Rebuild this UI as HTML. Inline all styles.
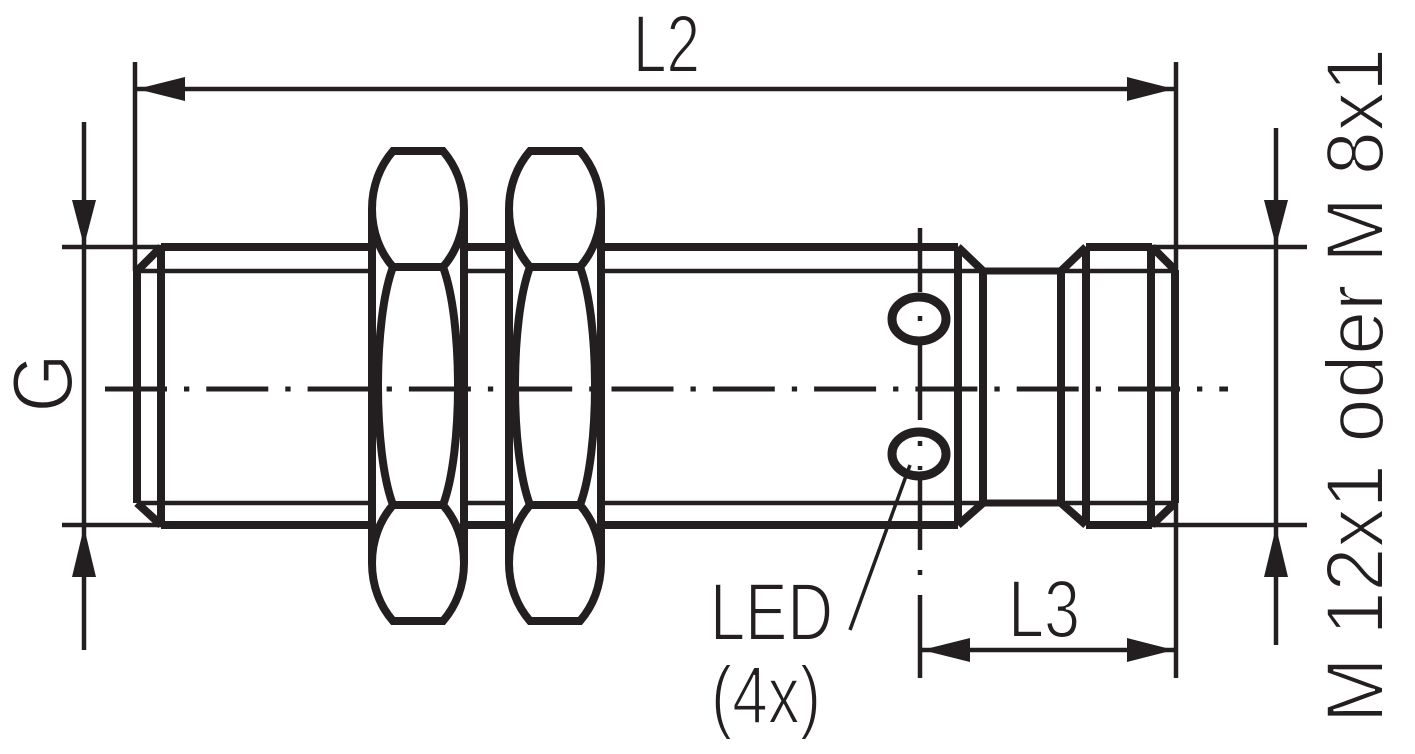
<!DOCTYPE html>
<html>
<head>
<meta charset="utf-8">
<style>
html,body{margin:0;padding:0;background:#fff;}
svg{display:block;}
text{font-family:"Liberation Sans",sans-serif;fill:#231f20;stroke:#fff;stroke-width:2;}
</style>
</head>
<body>
<svg width="1415" height="754" viewBox="0 0 1415 754" xmlns="http://www.w3.org/2000/svg">
<rect width="1415" height="754" fill="#fff"/>
<g stroke="#231f20" fill="none" stroke-linecap="butt">

<!-- centerline -->
<line x1="105" y1="389" x2="1228" y2="389" stroke-width="5" stroke-dasharray="62 17 5.3 17"/>

<!-- thin lines: dimension & extension -->
<g stroke-width="4.5">
  <!-- L2 -->
  <line x1="137" y1="89" x2="1174" y2="89"/>
  <line x1="135" y1="62" x2="135" y2="271"/>
  <line x1="1176" y1="62" x2="1176" y2="678"/>
  <!-- G -->
  <line x1="84" y1="122" x2="84" y2="650"/>
  <line x1="62" y1="247" x2="161" y2="247"/>
  <line x1="62" y1="525" x2="161" y2="525"/>
  <!-- right dim -->
  <line x1="1276" y1="128" x2="1276" y2="645"/>
  <line x1="1150" y1="247" x2="1307" y2="247"/>
  <line x1="1150" y1="525" x2="1307" y2="525"/>
  <!-- L3 -->
  <line x1="922" y1="650" x2="1174" y2="650"/>
  <!-- LED centre line -->
  <line x1="920" y1="228" x2="920" y2="292"/>
  <line x1="920" y1="316" x2="920" y2="321"/>
  <line x1="920" y1="345" x2="920" y2="420"/>
  <line x1="920" y1="441" x2="920" y2="446"/>
  <line x1="920" y1="466" x2="920" y2="470"/>
  <line x1="920" y1="480" x2="920" y2="550"/>
  <line x1="920" y1="570" x2="920" y2="575"/>
  <line x1="920" y1="595" x2="920" y2="678"/>
  <!-- leader -->
  <line x1="910" y1="465" x2="850" y2="630" stroke-width="3.5"/>
  <!-- inner body lines -->
  <line x1="137" y1="271" x2="372" y2="271"/>
  <line x1="137" y1="503" x2="372" y2="503"/>
  <line x1="464" y1="271" x2="509" y2="271"/>
  <line x1="464" y1="503" x2="509" y2="503"/>
  <line x1="601" y1="271" x2="983" y2="271"/>
  <line x1="601" y1="503" x2="983" y2="503"/>
  <line x1="1060" y1="271" x2="1176" y2="271"/>
  <line x1="1060" y1="503" x2="1176" y2="503"/>
</g>

<!-- thick body outline -->
<g stroke-width="8" stroke-linejoin="miter">
  <line x1="137" y1="271" x2="137" y2="503"/>
  <line x1="161" y1="247" x2="161" y2="525"/>
  <line x1="137" y1="271" x2="161" y2="247"/>
  <line x1="137" y1="503" x2="161" y2="525"/>
  <line x1="161" y1="247" x2="372" y2="247"/>
  <line x1="161" y1="525" x2="372" y2="525"/>
  <line x1="464" y1="247" x2="509" y2="247"/>
  <line x1="464" y1="525" x2="509" y2="525"/>
  <line x1="601" y1="247" x2="958" y2="247"/>
  <line x1="601" y1="525" x2="958" y2="525"/>
  <line x1="958" y1="247" x2="958" y2="525"/>
  <line x1="983" y1="271" x2="983" y2="503"/>
  <line x1="958" y1="247" x2="983" y2="271"/>
  <line x1="958" y1="525" x2="983" y2="503"/>
  <line x1="983" y1="271" x2="1060" y2="271" stroke-width="7"/>
  <line x1="983" y1="503" x2="1060" y2="503" stroke-width="7"/>
  <line x1="1061" y1="271" x2="1061" y2="503"/>
  <line x1="1061" y1="271" x2="1086" y2="247"/>
  <line x1="1061" y1="503" x2="1086" y2="525"/>
  <line x1="1086" y1="247" x2="1086" y2="525"/>
  <line x1="1086" y1="247" x2="1152" y2="247"/>
  <line x1="1086" y1="525" x2="1152" y2="525"/>
  <line x1="1151" y1="247" x2="1151" y2="525"/>
  <line x1="1152" y1="247" x2="1175" y2="270"/>
  <line x1="1152" y1="525" x2="1175" y2="503"/>
  <line x1="1175" y1="270" x2="1175" y2="503"/>
</g>

<!-- nut 1 -->
<g stroke-width="8">
  <path d="M393,151 L443,151 C456,166 464,186 464,209 C464,232 456,252 443,267 L393,267 C380,252 372,232 372,209 C372,186 380,166 393,151 Z"/>
  <g transform="translate(0,772) scale(1,-1)">
    <path d="M393,151 L443,151 C456,166 464,186 464,209 C464,232 456,252 443,267 L393,267 C380,252 372,232 372,209 C372,186 380,166 393,151 Z"/>
  </g>
  <line x1="372" y1="209" x2="372" y2="563"/>
  <line x1="464" y1="209" x2="464" y2="563"/>
  <path d="M393,267 C373,320 373,452 393,505"/>
  <path d="M443,267 C463,320 463,452 443,505"/>
</g>
<!-- nut 2 -->
<g stroke-width="8" transform="translate(137,0)">
  <path d="M393,151 L443,151 C456,166 464,186 464,209 C464,232 456,252 443,267 L393,267 C380,252 372,232 372,209 C372,186 380,166 393,151 Z"/>
  <g transform="translate(0,772) scale(1,-1)">
    <path d="M393,151 L443,151 C456,166 464,186 464,209 C464,232 456,252 443,267 L393,267 C380,252 372,232 372,209 C372,186 380,166 393,151 Z"/>
  </g>
  <line x1="372" y1="209" x2="372" y2="563"/>
  <line x1="464" y1="209" x2="464" y2="563"/>
  <path d="M393,267 C373,320 373,452 393,505"/>
  <path d="M443,267 C463,320 463,452 443,505"/>
</g>

<!-- LED ellipses -->
<ellipse cx="919" cy="319" rx="27" ry="22" stroke-width="9"/>
<ellipse cx="919" cy="454" rx="27" ry="22" stroke-width="9"/>
</g>

<!-- arrowheads -->
<g fill="#231f20" stroke="none">
  <polygon points="137,89 185,77 185,101"/>
  <polygon points="1174,89 1127,77 1127,101"/>
  <polygon points="84,246 72,200 96,200"/>
  <polygon points="84,527 72,577 96,577"/>
  <polygon points="1276,246 1264,200 1288,200"/>
  <polygon points="1276,527 1264,577 1288,577"/>
  <polygon points="922,650 970,638 970,662"/>
  <polygon points="1174,650 1127,638 1127,662"/>
</g>

<!-- labels -->
<text x="633" y="72" font-size="82" textLength="67" lengthAdjust="spacingAndGlyphs">L2</text>
<text transform="translate(72,383) rotate(-90)" x="0" y="0" font-size="85" text-anchor="middle" textLength="59" lengthAdjust="spacingAndGlyphs">G</text>
<text transform="translate(1383,723) rotate(-90)" x="0" y="0" font-size="82" textLength="675" lengthAdjust="spacingAndGlyphs">M 12x1 oder M 8x1</text>
<text x="710" y="640" font-size="82" textLength="123" lengthAdjust="spacingAndGlyphs">LED</text>
<text x="711" y="723" font-size="82" textLength="110" lengthAdjust="spacingAndGlyphs">(4x)</text>
<text x="1008" y="637" font-size="82" textLength="72" lengthAdjust="spacingAndGlyphs">L3</text>
</svg>
</body>
</html>
